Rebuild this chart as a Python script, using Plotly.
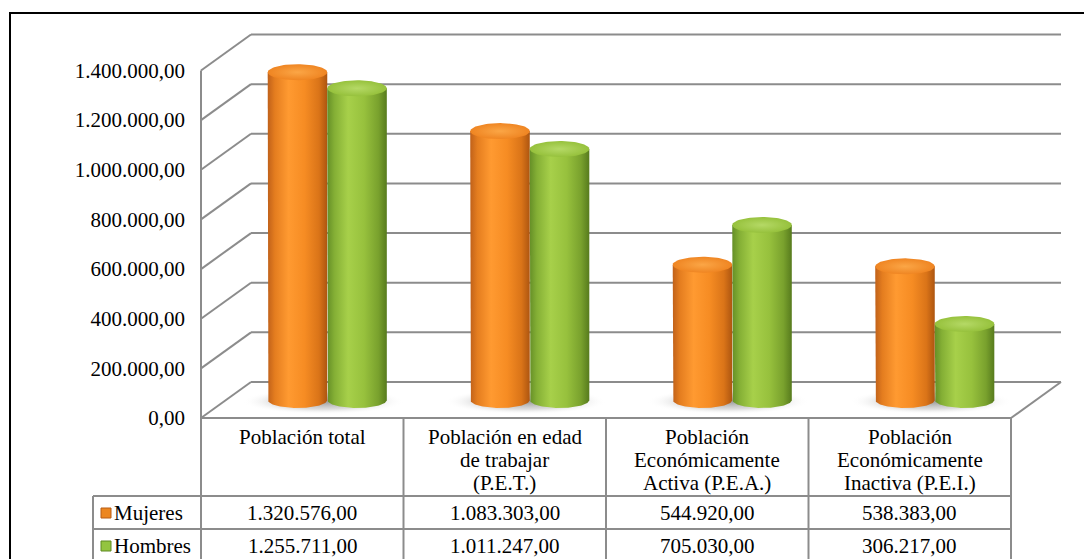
import numpy as np
import plotly.graph_objects as go

# ---- data -------------------------------------------------------------
categories = [
    "Población total",
    "Población en edad\nde trabajar\n(P.E.T.)",
    "Población\nEconómicamente\nActiva (P.E.A.)",
    "Población\nEconómicamente\nInactiva (P.E.I.)",
]
series_names = ["Mujeres", "Hombres"]
mujeres = [1320576.00, 1083303.00, 544920.00, 538383.00]
hombres = [1255711.00, 1011247.00, 705030.00, 306217.00]
y_ticks = [0, 200000, 400000, 600000, 800000, 1000000, 1200000, 1400000]

# ---- page geometry (pixels) -------------------------------------------
W, H = 1084, 559
FRONT_LEFT_PX = 201          # front-left corner of the floor
SLOT_PX = 202.5              # width of one category slot
FLOOR_PX = 418               # front edge of the floor (value 0)
PX_PER_UNIT = 347.5 / 1.4e6  # vertical pixels per unit of value
DEPTH_DX_PX = 50             # oblique depth of the 3D box
DEPTH_DY_PX = 36

x_range = [-FRONT_LEFT_PX / SLOT_PX, (W - FRONT_LEFT_PX) / SLOT_PX]
y_range = [-(H - FLOOR_PX) / PX_PER_UNIT, FLOOR_PX / PX_PER_UNIT]
DX = DEPTH_DX_PX / SLOT_PX
DY = DEPTH_DY_PX / PX_PER_UNIT


def xpx(px):
    return (px - FRONT_LEFT_PX) / SLOT_PX


def ypaper(px):
    return 1 - px / H


n_cat = len(categories)
GRID = dict(color="#8c8c8c", width=2)
FONT = "Times New Roman, Tinos, DejaVu Serif, serif"

fig = go.Figure()
shapes = []

# ---- 3D frame: left wall, back wall gridlines and floor ---------------
for v in y_ticks:
    shapes.append(dict(type="line", xref="x", yref="y", x0=0, y0=v,
                       x1=DX, y1=v + DY, line=GRID, layer="below"))
    shapes.append(dict(type="line", xref="x", yref="y", x0=DX, y0=v + DY,
                       x1=n_cat + DX, y1=v + DY, line=GRID, layer="below"))
shapes.append(dict(type="line", xref="x", yref="y", x0=0, y0=0,
                   x1=0, y1=max(y_ticks), line=GRID, layer="below"))
shapes.append(dict(type="line", xref="x", yref="y", x0=0, y0=0,
                   x1=n_cat, y1=0, line=GRID, layer="below"))
shapes.append(dict(type="line", xref="x", yref="y", x0=n_cat, y0=0,
                   x1=n_cat + DX, y1=DY, line=GRID, layer="below"))

# ---- cylinders ---------------------------------------------------------
RX = 0.147                      # cylinder radius in slot units
RY = 8 / PX_PER_UNIT            # half height of the elliptical caps
BASE = DY / 2                   # cylinders stand at mid depth

body_scales = {
    "Mujeres": [[0, "#c0611a"], [0.12, "#e47d1f"], [0.35, "#ff9a31"],
                [0.62, "#f68c23"], [0.86, "#da7418"], [1, "#ad5510"]],
    "Hombres": [[0, "#658f27"], [0.12, "#84af35"], [0.35, "#a7d04a"],
                [0.62, "#97c13d"], [0.86, "#79a12d"], [1, "#577b1d"]],
}
top_scales = {
    "Mujeres": [[0, "#fba646"], [1, "#ef8522"]],
    "Hombres": [[0, "#b5d966"], [1, "#96c13c"]],
}

t_half = np.linspace(np.pi, 2 * np.pi, 60)
t_full = np.linspace(0, 2 * np.pi, 90)

# soft floor shadow under each pair
for i in range(n_cat):
    cx = i + 0.5 + DX / 2 - 0.02
    fig.add_trace(go.Scatter(
        x=cx + 0.40 * np.cos(t_full),
        y=BASE - 1.5 / PX_PER_UNIT + 13 / PX_PER_UNIT * np.sin(t_full),
        mode="lines", line=dict(width=0), fill="toself",
        fillgradient=dict(type="radial", colorscale=[
            [0, "rgba(70,70,70,0.55)"], [0.6, "rgba(120,120,120,0.25)"],
            [1, "rgba(255,255,255,0)"]]),
        hoverinfo="skip", showlegend=False))

for name, values, offset in ((series_names[0], mujeres, -RX),
                             (series_names[1], hombres, RX)):
    for i, v in enumerate(values):
        cx = i + 0.5 + offset + DX / 2
        top = BASE + v
        bx = [cx - RX] + list(cx + RX * np.cos(t_half)) + [cx + RX, cx - RX]
        by = [top] + list(BASE + RY * np.sin(t_half)) + [top, top]
        fig.add_trace(go.Scatter(
            x=bx, y=by, mode="lines", line=dict(width=0), fill="toself",
            fillgradient=dict(type="horizontal", colorscale=body_scales[name]),
            hoverinfo="skip", showlegend=False, name=name))
        fig.add_trace(go.Scatter(
            x=cx + RX * np.cos(t_full), y=top + RY * np.sin(t_full),
            mode="lines", line=dict(width=0), fill="toself",
            fillgradient=dict(type="radial", colorscale=top_scales[name]),
            hoverinfo="skip", showlegend=False, name=name))

# ---- data table --------------------------------------------------------
TBL = dict(color="#8c8c8c", width=2)
LEG_LEFT = xpx(93)
ROW_HEADER_END = 496
ROW_1_END = 529
TABLE_BOTTOM = 575
for yy in (ROW_HEADER_END, ROW_1_END):
    shapes.append(dict(type="line", xref="x", yref="paper", x0=LEG_LEFT,
                       x1=n_cat, y0=ypaper(yy), y1=ypaper(yy), line=TBL))
for i in range(n_cat + 1):
    shapes.append(dict(type="line", xref="x", yref="paper", x0=i, x1=i,
                       y0=ypaper(FLOOR_PX), y1=ypaper(TABLE_BOTTOM), line=TBL))
shapes.append(dict(type="line", xref="x", yref="paper", x0=LEG_LEFT,
                   x1=LEG_LEFT, y0=ypaper(ROW_HEADER_END),
                   y1=ypaper(TABLE_BOTTOM), line=TBL))

annotations = []
for i, cat in enumerate(categories):
    for k, line in enumerate(cat.split("\n")):
        annotations.append(dict(
            x=i + 0.5, y=ypaper(437 + 23 * k), xref="x", yref="paper",
            text=line, showarrow=False, xanchor="center", yanchor="middle",
            font=dict(family=FONT, size=21, color="#000000")))


def fmt(v):
    s = f"{v:,.2f}"
    return s.replace(",", "X").replace(".", ",").replace("X", ".")


row_centers = [513, 546]
key_colors = [("#ec8620", "#b85d14"), ("#93c440", "#5e8a22")]
for r, (name, values) in enumerate(((series_names[0], mujeres),
                                    (series_names[1], hombres))):
    yc = row_centers[r]
    for i, v in enumerate(values):
        annotations.append(dict(
            x=i + 0.5, y=ypaper(yc), xref="x", yref="paper", text=fmt(v),
            showarrow=False, xanchor="center", yanchor="middle",
            font=dict(family=FONT, size=21, color="#000000")))
    annotations.append(dict(
        x=xpx(112), y=ypaper(yc), xref="x", yref="paper", text=name,
        showarrow=False, xanchor="left", yanchor="middle",
        font=dict(family=FONT, size=21, color="#000000")))
    fill, edge = key_colors[r]
    shapes.append(dict(type="rect", xref="x", yref="paper",
                       x0=xpx(101), x1=xpx(111), y0=ypaper(yc - 5),
                       y1=ypaper(yc + 5), fillcolor=fill,
                       line=dict(color=edge, width=1)))

# outer chart border
shapes.append(dict(type="rect", xref="paper", yref="paper", x0=10 / W,
                   x1=1.02, y0=-0.05, y1=ypaper(13),
                   line=dict(color="#000000", width=2)))

fig.update_layout(
    width=W, height=H, autosize=False,
    margin=dict(l=0, r=0, t=0, b=0),
    template="none",
    font=dict(family=FONT, size=21, color="#000000"),
    paper_bgcolor="#ffffff", plot_bgcolor="#ffffff",
    separators=",.",
    showlegend=False,
    shapes=shapes, annotations=annotations,
    xaxis=dict(range=x_range, domain=[0, 1], showgrid=False, zeroline=False,
               showticklabels=False, showline=False, fixedrange=True),
    yaxis=dict(range=y_range, domain=[0, 1], anchor="free",
               position=FRONT_LEFT_PX / W, showgrid=False, zeroline=False,
               showline=False, ticks="", tickvals=y_ticks,
               tickformat=",.2f", ticklabelstandoff=16, automargin=False,
               tickfont=dict(family=FONT, size=21, color="#000000"),
               fixedrange=True),
)

fig.write_html("out.html", config={"displayModeBar": False})
